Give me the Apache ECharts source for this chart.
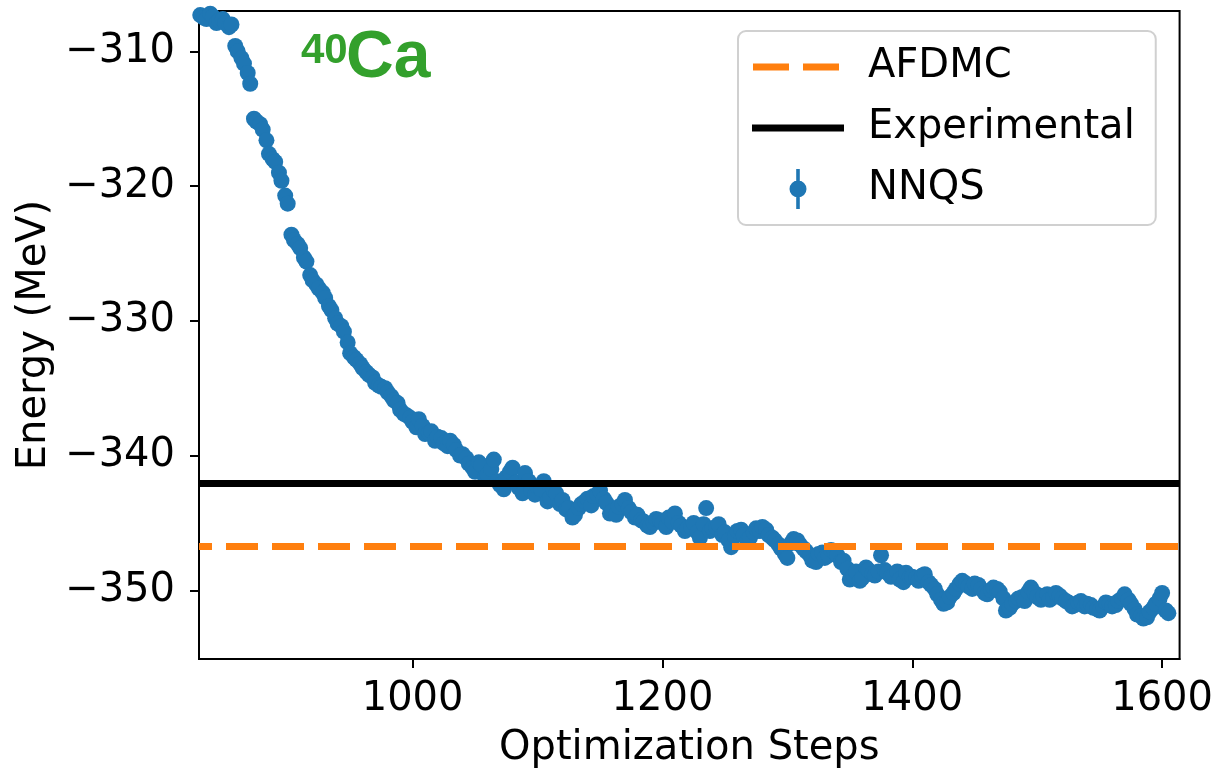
<!DOCTYPE html>
<html>
<head>
<meta charset="utf-8">
<script src="https://cdn.jsdelivr.net/npm/echarts@6/dist/echarts.min.js"></script>
<style>
html,body{margin:0;padding:0;background:#fff;}
#chart{width:1216px;height:774px;}
</style>
</head>
<body>
<div id="chart"></div>
<script>
// ---- data ----
// NNQS samples (first set)
const stepsA = [
  830, 835, 840, 845, 850, 855,
  860, 865, 870, 875, 880, 885,
  890, 895, 900, 905, 910, 915,
  920, 925, 930, 935, 940, 945,
  950, 955, 960, 965, 970, 975,
  980, 985, 990, 995, 1000, 1005,
  1010, 1015, 1020, 1025, 1030, 1035,
  1040, 1045, 1050, 1055, 1060, 1065,
  1070, 1075, 1080, 1085, 1090, 1095,
  1100, 1105, 1110, 1115, 1120, 1125,
  1130, 1135, 1140, 1145, 1150, 1155,
  1160, 1165, 1170, 1175, 1180, 1185,
  1190, 1195, 1200, 1205, 1210, 1215,
  1220, 1225, 1230, 1235, 1240, 1245,
  1250, 1255, 1260, 1265, 1270, 1275,
  1280, 1285, 1290, 1295, 1300, 1305,
  1310, 1315, 1320, 1325, 1330, 1335,
  1340, 1345, 1350, 1355, 1360, 1365,
  1370, 1375, 1380, 1385, 1390, 1395,
  1400, 1405, 1410, 1415, 1420, 1425,
  1430, 1435, 1440, 1445, 1450, 1455,
  1460, 1465, 1470, 1475, 1480, 1485,
  1490, 1495, 1500, 1505, 1510, 1515,
  1520, 1525, 1530, 1535, 1540, 1545,
  1550, 1555, 1560, 1565, 1570, 1575,
  1580, 1585, 1590, 1595, 1600, 1605
];
const energyA = [
  -307.3, -307.6, -307.4, -307.7, -307.9, -308.0,
  -310.0, -310.9, -312.4, -315.2, -315.8, -317.6,
  -318.2, -319.6, -321.3, -324.0, -324.6, -325.6,
  -327.0, -327.6, -328.3, -329.2, -330.2, -330.8,
  -332.4, -332.9, -333.5, -334.0, -334.6, -334.9,
  -335.3, -335.9, -336.6, -337.0, -337.5, -337.3,
  -338.4, -338.2, -338.6, -339.1, -338.9, -339.6,
  -339.9, -340.6, -341.2, -340.7, -341.4, -340.3,
  -342.2, -341.6, -340.9, -342.4, -341.3, -342.6,
  -342.3, -341.9, -343.1, -342.8, -343.3, -343.9,
  -344.4, -343.6, -343.2, -343.0, -342.6, -343.5,
  -344.1, -343.8, -343.3, -344.2, -344.4, -344.9,
  -345.3, -344.7, -345.0, -344.6, -344.3, -345.2,
  -345.4, -345.0, -346.1, -343.9, -345.4, -345.1,
  -345.7, -346.8, -345.6, -345.9, -346.1, -345.4,
  -345.3, -345.9, -346.3, -346.9, -347.6, -346.2,
  -346.6, -347.1, -347.8, -347.3, -347.6, -347.0,
  -347.4, -347.8, -349.2, -348.6, -349.1, -348.5,
  -348.9, -347.4, -348.7, -348.9, -349.2, -348.7,
  -349.0, -349.3, -348.8, -349.6, -350.3, -351.0,
  -350.5, -349.9, -349.3, -349.7, -349.5, -349.9,
  -350.3, -349.8, -350.1, -351.5, -351.0, -350.6,
  -350.8, -349.8, -350.5, -350.4, -350.7, -350.2,
  -350.6, -350.9, -351.1, -350.8, -351.0, -351.3,
  -351.5, -350.9, -351.2, -350.8, -350.3, -351.0,
  -351.8, -352.1, -351.6, -351.0, -350.2, -351.7
];
// NNQS samples (second set, in between)
const stepsB = [
  833, 838, 843, 848, 853, 858,
  863, 868, 873, 878, 883, 888,
  893, 898, 903, 908, 913, 918,
  923, 928, 933, 938, 943, 948,
  953, 958, 963, 968, 973, 978,
  983, 988, 993, 998, 1003, 1008,
  1013, 1018, 1023, 1028, 1033, 1038,
  1043, 1048, 1053, 1058, 1063, 1068,
  1073, 1078, 1083, 1088, 1093, 1098,
  1103, 1108, 1113, 1118, 1123, 1128,
  1133, 1138, 1143, 1148, 1153, 1158,
  1163, 1168, 1173, 1178, 1183, 1188,
  1193, 1198, 1203, 1208, 1213, 1218,
  1223, 1228, 1233, 1238, 1243, 1248,
  1253, 1258, 1263, 1268, 1273, 1278,
  1283, 1288, 1293, 1298, 1303, 1308,
  1313, 1318, 1323, 1328, 1333, 1338,
  1343, 1348, 1353, 1358, 1363, 1368,
  1373, 1378, 1383, 1388, 1393, 1398,
  1403, 1408, 1413, 1418, 1423, 1428,
  1433, 1438, 1443, 1448, 1453, 1458,
  1463, 1468, 1473, 1478, 1483, 1488,
  1493, 1498, 1503, 1508, 1513, 1518,
  1523, 1528, 1533, 1538, 1543, 1548,
  1553, 1558, 1563, 1568, 1573, 1578,
  1583, 1588, 1593, 1598, 1603
];
const energyB = [
  -307.5, -307.2, -307.9, -307.6, -308.2, -309.6,
  -310.5, -311.6, -315.0, -315.4, -316.6, -318.0,
  -319.0, -320.7, -323.6, -324.3, -325.3, -326.6,
  -327.3, -327.9, -328.9, -329.8, -330.4, -331.6,
  -332.7, -333.2, -333.8, -334.2, -334.8, -335.0,
  -335.6, -336.1, -336.9, -337.2, -337.9, -337.8,
  -338.3, -338.9, -338.7, -339.3, -339.2, -340.0,
  -340.2, -340.9, -340.5, -341.6, -341.0, -341.9,
  -342.5, -341.2, -342.0, -342.8, -341.9, -342.9,
  -342.5, -343.4, -342.6, -343.6, -344.0, -344.6,
  -343.9, -343.4, -343.7, -342.9, -343.2, -344.3,
  -344.4, -343.6, -343.9, -344.6, -344.8, -345.2,
  -345.0, -344.8, -345.3, -344.9, -345.0, -345.6,
  -345.3, -345.7, -345.1, -345.6, -345.3, -345.9,
  -346.3, -346.0, -345.5, -346.3, -345.7, -345.6,
  -345.5, -346.1, -346.6, -347.3, -346.5, -346.3,
  -346.9, -347.4, -347.9, -347.2, -347.4, -347.2,
  -347.9, -348.4, -348.9, -349.3, -348.3, -348.8,
  -348.6, -348.5, -349.0, -348.6, -349.4, -349.0,
  -349.1, -348.9, -349.4, -349.9, -350.7, -350.9,
  -350.2, -349.5, -349.5, -349.9, -349.6, -350.2,
  -350.0, -349.9, -350.6, -351.3, -350.8, -350.5,
  -350.1, -350.2, -350.7, -350.3, -350.5, -350.4,
  -350.8, -351.2, -350.9, -351.2, -351.1, -351.4,
  -351.2, -351.0, -351.1, -350.6, -350.7, -351.4,
  -351.9, -352.0, -351.3, -350.6, -351.5
];
const afdmcEnergy = -346.75;
const experimentalEnergy = -342.05;
const xTicks = [1000, 1200, 1400, 1600];
const yTicks = [-350, -340, -330, -320, -310];
const seriesNames = ['AFDMC', 'Experimental', 'NNQS'];

// ---- chart ----
const nnqsData = stepsA.map((s, i) => [s, energyA[i]])
  .concat(stepsB.map((s, i) => [s, energyB[i]]))
  .sort((a, b) => a[0] - b[0]);
const FONT = 'DejaVu Sans';
const minus = v => (v < 0 ? '\u2212' + Math.abs(v) : String(v));

const chart = echarts.init(document.getElementById('chart'), null, {renderer: 'canvas'});
const option = {
  animation: false,
  backgroundColor: '#ffffff',
  grid: {
    left: 199, top: 11, right: 36, bottom: 113,
    show: true, borderColor: '#000', borderWidth: 2, backgroundColor: 'transparent'
  },
  xAxis: {
    type: 'value', min: 829, max: 1614,
    name: 'Optimization Steps', nameLocation: 'middle', nameGap: 70,
    nameTextStyle: {fontFamily: FONT, fontSize: 40, color: '#000'},
    axisLine: {show: true, lineStyle: {color: '#000', width: 2}},
    axisTick: {show: true, customValues: xTicks, length: 9, lineStyle: {color: '#000', width: 2}},
    axisLabel: {customValues: xTicks, fontFamily: FONT, fontSize: 40, color: '#000', margin: 21,
                formatter: v => String(v)},
    splitLine: {show: false}
  },
  yAxis: {
    type: 'value', min: -355.1, max: -307.0,
    name: 'Energy (MeV)', nameLocation: 'middle', nameGap: 143,
    nameTextStyle: {fontFamily: FONT, fontSize: 40, color: '#000'},
    axisLine: {show: true, lineStyle: {color: '#000', width: 2}},
    axisTick: {show: true, customValues: yTicks, length: 9, lineStyle: {color: '#000', width: 2}},
    axisLabel: {customValues: yTicks, fontFamily: FONT, fontSize: 40, color: '#000', margin: 24, formatter: minus},
    splitLine: {show: false}
  },
  legend: {
    show: true, orient: 'vertical', left: 738, top: 31,
    padding: [12, 21, 12, 14],
    backgroundColor: '#fff', borderColor: '#d0d0d0', borderWidth: 2, borderRadius: 8,
    itemWidth: 92, itemHeight: 40, itemGap: 13,
    textStyle: {fontFamily: FONT, fontSize: 40, color: '#000', lineHeight: 48, padding: [0, 0, 0, 19]},
    data: [
      {name: seriesNames[0], icon: 'path://M1,0 L37,0 L37,7 L1,7 Z M51,0 L87,0 L87,7 L51,7 Z M92,3.5 L92,3.6 Z M0,3.5 L0,3.6 Z',
       itemStyle: {color: '#ff7f0e', borderWidth: 0}},
      {name: seriesNames[1], icon: 'path://M0,0 L92,0 L92,7 L0,7 Z',
       itemStyle: {color: '#000', borderWidth: 0}},
      {name: seriesNames[2], icon: 'path://M-1.8,-20 L1.8,-20 L1.8,-6 L-1.8,-6 Z M-1.8,6 L1.8,6 L1.8,20 L-1.8,20 Z M0,-8.5 A8.5,8.5 0 1,1 0,8.5 A8.5,8.5 0 1,1 0,-8.5 Z',
       itemStyle: {color: '#1f77b4', borderWidth: 0}}
    ]
  },
  graphic: [
    {type: 'text', left: 301, top: 30, z: 10,
     style: {text: '40', font: 'bold 42px "Liberation Sans", Arial, sans-serif', fill: '#33a02c'}},
    {type: 'text', left: 346, top: 26, z: 10,
     style: {text: 'Ca', font: 'bold 66px "Liberation Sans", Arial, sans-serif', fill: '#33a02c'}}
  ],
  series: [
    {
      name: seriesNames[0], type: 'line', data: [], symbol: 'none', z: 4,
      itemStyle: {color: '#ff7f0e'},
      lineStyle: {color: '#ff7f0e', width: 7, type: [32, 14]},
      markLine: {
        silent: true, symbol: 'none', label: {show: false},
        lineStyle: {color: '#ff7f0e', width: 7, type: [32, 14], dashOffset: 19},
        data: [{yAxis: afdmcEnergy}]
      }
    },
    {
      name: seriesNames[1], type: 'line', data: [], symbol: 'none', z: 4,
      itemStyle: {color: '#000'},
      lineStyle: {color: '#000', width: 7},
      markLine: {
        silent: true, symbol: 'none', label: {show: false},
        lineStyle: {color: '#000', width: 7, type: 'solid'},
        data: [{yAxis: experimentalEnergy}]
      }
    },
    {
      name: seriesNames[2], type: 'scatter', data: nnqsData, z: 2,
      symbol: 'circle', symbolSize: 16,
      itemStyle: {color: '#1f77b4', opacity: 1}
    }
  ]
};
chart.setOption(option);
</script>
</body>
</html>
